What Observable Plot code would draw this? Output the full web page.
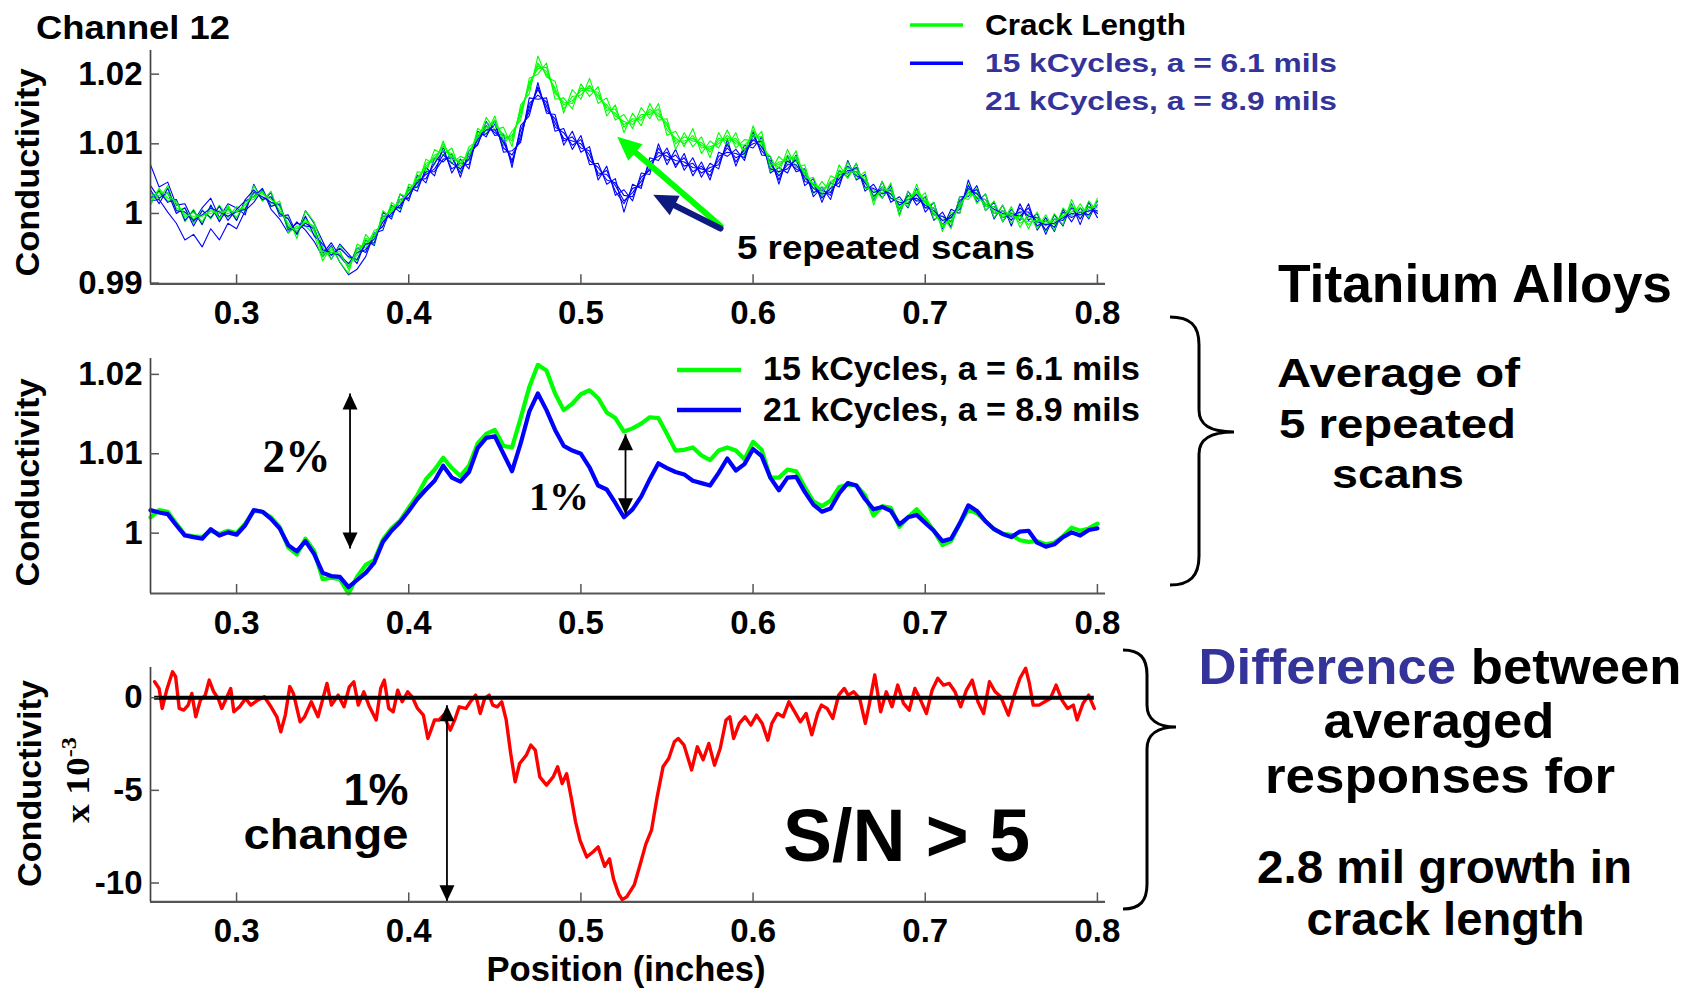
<!DOCTYPE html>
<html><head><meta charset="utf-8">
<script src="https://cdn.jsdelivr.net/npm/d3@7"></script>
<script src="https://cdn.jsdelivr.net/npm/@observablehq/plot@0.6"></script>
<style>
html,body{margin:0;padding:0;background:#fff;}
#page{position:relative;width:1694px;height:988px;overflow:hidden;background:#fff;}
.panel{position:absolute;left:0;}
#overlay{position:absolute;left:0;top:0;}
</style></head><body><div id="page"></div>
<script>
// ---------------- DATA ----------------
const xTicks = [0.3, 0.4, 0.5, 0.6, 0.7, 0.8];
const yTicksScans = [0.99, 1, 1.01, 1.02];
const yTicksAvg = [1, 1.01, 1.02];
const yTicksDiff = [-10, -5, 0];

// sampling positions (inches) of the scans / averages: 0.25 .. 0.80 every 0.005
const scanX = d3.range(111).map(i => 0.25 + i * 0.005);

// conductivity values in units of 1e-4 relative to 1.0
const avg15k = [20,29,27,12,-2,-4,-5,3,-1,3,
0,12,28,27,20,8,-18,-27,-7,-22,
-58,-56,-58,-76,-55,-40,-34,-8,6,16,
32,48,68,80,95,82,72,85,113,125,
130,110,108,145,184,212,205,176,155,163,
175,180,170,152,145,128,132,138,146,145,
125,104,105,108,98,92,104,108,104,93,
115,105,70,70,80,78,58,40,34,41,
58,61,60,48,22,34,32,8,20,30,
18,3,-15,-10,12,30,25,15,5,-1,
-2,-9,-11,-10,-14,-12,-4,7,3,6,12];
const avg21k = [29,26,24,10,-3,-5,-7,5,-3,1,
-2,10,29,27,18,6,-15,-23,-10,-26,
-50,-54,-55,-68,-59,-50,-37,-11,3,14,
28,43,55,66,85,70,65,77,107,120,
122,100,78,113,153,176,155,130,110,104,
100,83,60,55,38,20,30,46,68,88,
82,77,74,66,63,60,76,94,79,87,
106,97,70,54,70,71,52,36,27,31,
50,63,60,43,30,33,28,11,20,23,
13,3,-10,-7,12,35,28,15,5,-1,
-5,2,3,-12,-17,-14,-5,1,-3,4,6];

const scan21k_1 = [70,38,45,12,14,-12,8,22,-6,14,
8,-2,42,18,30,-4,-2,-30,4,-14,
-40,-66,-44,-58,-72,-38,-46,2,-8,28,
18,55,44,80,74,86,52,90,98,132,
112,114,66,126,140,188,144,142,98,118,
88,96,48,68,26,34,18,58,56,100,
70,92,62,80,52,72,64,106,68,98,
94,110,58,66,58,84,40,50,16,44,
38,76,48,56,18,46,16,24,8,36,
2,16,-22,6,0,48,16,28,-8,12,
-18,14,-10,0,-30,-2,-18,14,-16,16,-6];
const scan21k_2 = [18,20,2,-14,-38,-30,-48,-22,-38,-14,
-22,4,16,34,6,-8,-28,-12,-24,-40,
-62,-46,-70,-88,-80,-62,-28,-24,12,2,
38,32,66,54,96,58,78,64,118,110,
134,88,90,102,166,164,166,118,122,92,
112,70,72,42,50,2,42,36,80,76,
94,66,86,54,74,48,88,82,92,76,
118,84,82,42,82,60,64,24,38,20,
62,52,72,32,42,22,40,-2,32,12,
24,-10,2,-20,24,24,40,4,16,-12,
6,-10,14,-24,-6,-26,6,-12,8,-8,18];
const scan21k_3 = [40,22,30,0,8,-18,4,-6,10,-10,
6,18,24,36,10,14,-24,-14,-18,-20,
-58,-42,-62,-76,-50,-56,-30,-18,10,8,
34,38,60,60,78,80,58,84,100,126,
116,106,72,120,146,182,148,136,104,110,
94,90,54,62,32,14,36,40,74,82,
88,70,80,60,68,54,82,88,86,80,
112,90,76,48,76,64,58,30,34,26,
56,58,66,38,36,28,34,6,26,18,
18,-2,-4,-12,18,30,34,10,10,-6,
0,-4,8,-18,-10,-20,2,-6,2,-2,12];
const scan21k_4 = [22,32,16,20,-10,4,-16,12,-12,8,
-10,20,34,20,24,0,-8,-30,-4,-32,
-44,-60,-50,-62,-66,-44,-42,-4,-4,20,
22,48,50,72,90,64,72,70,112,114,
128,94,84,106,158,170,160,124,116,98,
106,76,66,48,44,26,24,52,62,94,
76,84,68,72,58,66,70,100,74,92,
100,104,64,60,64,78,46,42,22,36,
44,68,54,48,24,38,22,16,14,28,
8,8,-16,-2,6,40,22,20,0,4,
-10,8,-4,-6,-24,-8,-10,8,-8,10,0];
const scan21k_5 = [34,14,36,4,2,-10,-2,8,2,-4,
2,6,30,24,16,12,-20,-26,-14,-22,
-52,-56,-60,-72,-56,-52,-36,-12,0,12,
28,44,56,64,84,72,64,78,106,120,
120,102,76,112,152,178,154,130,108,104,
100,84,58,56,40,18,30,46,66,88,
82,76,74,66,64,60,76,94,80,86,
106,96,72,54,70,70,52,36,28,30,
50,62,60,44,30,34,28,12,20,22,
12,4,-10,-6,12,36,28,14,6,0,
-4,2,2,-12,-16,-14,-6,0,-2,4,4];

const scan15k_1 = [30,20,40,4,8,-14,6,-8,12,-6,
10,4,40,18,32,-2,-6,-36,4,-12,
-48,-66,-46,-64,-68,-30,-44,4,-6,28,
22,60,58,92,84,94,62,96,104,138,
120,124,96,156,172,226,196,190,144,178,
164,194,158,166,134,142,122,152,136,158,
112,118,96,122,86,104,94,120,94,106,
104,118,60,82,70,90,48,52,24,54,
48,74,50,60,12,46,22,20,10,42,
8,16,-26,2,0,42,14,28,-6,12,
-14,2,-22,2,-26,0,-16,20,-8,18,2];
const scan15k_2 = [12,34,18,20,-12,6,-16,12,-10,12,
-10,18,20,36,10,18,-28,-18,-18,-30,
-68,-48,-70,-86,-44,-50,-24,-20,16,6,
42,38,78,70,104,72,82,76,122,114,
140,98,118,134,194,200,216,164,166,150,
186,168,182,140,156,116,144,126,158,134,
136,92,116,96,110,80,116,96,116,82,
126,94,82,58,92,66,70,28,46,30,
70,50,72,36,34,22,44,-4,32,18,
30,-8,-4,-22,24,20,36,4,18,-12,
10,-20,0,-22,-2,-24,8,-4,14,-6,22];
const scan15k_3 = [22,26,30,8,2,-8,-2,0,4,0,
4,8,32,22,24,4,-14,-30,-4,-26,
-54,-60,-54,-80,-50,-44,-30,-12,10,12,
36,44,72,76,100,78,76,80,116,120,
134,106,112,140,188,208,210,172,160,158,
180,176,174,148,150,124,136,134,150,140,
130,100,110,104,102,88,108,104,108,88,
120,100,74,66,84,74,62,36,38,36,
62,56,64,44,26,30,36,4,24,26,
22,-2,-10,-14,16,26,30,10,10,-6,
2,-14,-6,-14,-10,-16,0,2,8,2,16];
const scan15k_4 = [16,36,22,18,-6,2,-12,8,-6,8,
-6,16,24,32,14,14,-22,-22,-12,-18,
-62,-52,-62,-72,-60,-36,-38,-4,2,20,
28,52,64,84,90,86,68,90,108,130,
126,114,104,150,180,216,200,180,150,168,
170,184,166,156,140,132,128,142,142,150,
120,108,100,112,94,96,100,112,100,98,
110,110,66,74,76,82,54,44,30,46,
54,66,56,52,18,38,28,12,16,34,
14,8,-20,-6,8,34,20,20,0,4,
-6,-4,-16,-6,-18,-8,-8,12,-2,10,8];
const scan15k_5 = [24,30,28,14,-2,-4,-4,4,0,4,
2,12,28,28,20,10,-18,-26,-8,-22,
-58,-56,-58,-76,-54,-40,-34,-8,6,16,
32,48,68,80,96,82,72,84,112,124,
130,110,108,146,184,212,204,176,156,162,
176,180,170,152,144,128,132,138,146,144,
126,104,104,108,98,92,104,108,104,92,
114,104,70,70,80,78,58,40,34,42,
58,60,60,48,22,34,32,8,20,30,
18,2,-16,-10,12,30,24,14,4,-2,
-2,-8,-12,-10,-14,-12,-4,6,2,6,12];

// difference between averaged responses (x 1e-3)
const diffX = [0.2524,0.2550,0.2568,0.2594,0.2628,0.2646,0.2667,0.2693,0.2719,0.2740,0.2763,0.2790,0.2818,0.2841,0.2867,0.2893,0.2914,0.2940,0.2966,0.2984,
0.3018,0.3052,0.3083,0.3122,0.3161,0.3200,0.3234,0.3257,0.3283,0.3309,0.3330,0.3369,0.3395,0.3434,0.3473,0.3499,0.3525,0.3551,0.3590,0.3624,
0.3655,0.3681,0.3707,0.3739,0.3772,0.3811,0.3837,0.3858,0.3884,0.3910,0.3936,0.3962,0.3994,0.4020,0.4051,0.4085,0.4111,0.4129,0.4150,0.4176,
0.4202,0.4241,0.4267,0.4293,0.4332,0.4358,0.4389,0.4415,0.4441,0.4467,0.4488,0.4514,0.4540,0.4566,0.4592,0.4618,0.4644,0.4683,0.4709,0.4735,
0.4761,0.4800,0.4839,0.4865,0.4891,0.4917,0.4943,0.4969,0.4995,0.5034,0.5073,0.5100,0.5138,0.5166,0.5190,0.5220,0.5240,0.5266,0.5310,0.5344,
0.5377,0.5410,0.5443,0.5477,0.5510,0.5543,0.5565,0.5599,0.5643,0.5676,0.5710,0.5743,0.5776,0.5809,0.5843,0.5865,0.5887,0.5920,0.5953,0.5987,
0.6020,0.6053,0.6086,0.6109,0.6142,0.6175,0.6208,0.6242,0.6275,0.6308,0.6341,0.6375,0.6397,0.6430,0.6463,0.6497,0.6530,0.6552,0.6585,0.6619,
0.6652,0.6674,0.6707,0.6741,0.6774,0.6807,0.6840,0.6874,0.6907,0.6940,0.6973,0.7007,0.7040,0.7073,0.7106,0.7140,0.7173,0.7206,0.7239,0.7273,
0.7306,0.7339,0.7373,0.7406,0.7439,0.7483,0.7517,0.7550,0.7583,0.7605,0.7627,0.7661,0.7694,0.7727,0.7760,0.7794,0.7827,0.7860,0.7882,0.7916,
0.7949,0.7982];
const diffY = [0.86,0.50,-0.58,0.41,1.40,1.13,-0.58,-0.67,-0.40,0.23,-1.03,-0.13,0.14,0.95,0.32,-0.04,-0.58,-0.04,0.50,-0.76,
-0.49,-0.04,-0.40,-0.13,0.05,-0.49,-1.03,-1.84,-0.94,0.60,0.23,-1.30,-1.03,-0.22,-1.03,-0.13,0.77,-0.40,0.14,-0.49,
0.59,0.86,-0.40,0.32,-0.49,-1.20,0.50,0.95,-0.58,-0.76,0.41,-0.22,0.32,0.05,-0.58,-0.94,-2.20,-1.75,-1.20,-1.20,
-0.94,-1.75,-1.20,-0.49,-0.58,-0.22,0.14,-0.85,-0.04,0.14,-0.40,-0.49,-0.22,-1.20,-3.00,-4.54,-3.55,-3.10,-2.56,-2.83,
-4.27,-4.72,-4.27,-3.73,-4.63,-4.10,-5.35,-6.70,-7.70,-8.60,-8.30,-8.05,-9.10,-8.70,-9.80,-10.60,-10.90,-10.75,-10.10,-9.00,
-7.90,-7.15,-5.35,-3.73,-3.28,-2.38,-2.20,-2.56,-3.90,-2.65,-3.35,-2.47,-3.64,-2.74,-1.20,-1.03,-2.20,-1.39,-1.03,-1.48,
-0.94,-1.39,-2.29,-1.39,-0.85,-1.03,-0.22,-0.76,-1.30,-0.85,-2.00,-0.85,-0.40,-0.58,-1.12,0.14,0.50,0.14,0.32,-0.04,
-1.39,-0.40,1.23,-0.76,0.32,-0.49,0.68,-0.31,-0.67,0.50,-0.13,-0.85,0.41,1.05,0.68,0.77,0.32,-0.49,0.41,0.95,
-0.22,-0.85,0.86,0.32,0.05,-0.94,0.14,1.05,1.59,0.77,-0.40,-0.40,-0.22,-0.04,0.68,-0.13,-0.58,-0.40,-1.20,-0.31,
0.14,-0.58];

// annotation anchors (data units)
const arrowsScans = [
  {x1: 0.5811, y1: 0.99820, x2: 0.5211, y2: 1.01101, color: "#00ff00", rot: -49.2},
  {x1: 0.5811, y1: 0.99784, x2: 0.5420, y2: 1.00269, color: "#0d1a80", rot: -63.3}
];
const doubleArrowsAvg = [
  {x: 0.3659, top: 1.01759, bottom: 0.99806},
  {x: 0.5259, top: 1.01246, bottom: 1.00238}
];
const doubleArrowDiff = [{x: 0.4222, top: -0.405, bottom: -10.98}];

// ---------------- CHARTS ----------------
const GREEN = "#00ff00", BLUE = "#0000ff", RED = "#ff0000", TEXTBLUE = "#333399";
const FONT = "'Liberation Sans', Arial, Helvetica, sans-serif";
const xDomain = [0.25, 0.8047];
const toCond = v => 1 + v / 1e4;
const fmt = d => String(d);

function tri(len, half) {
  return {draw(ctx) { ctx.moveTo(0, 0); ctx.lineTo(half, len); ctx.lineTo(-half, len); ctx.closePath(); }};
}

function frameMarks(yDomain, yTicks) {
  return [
    Plot.ruleY([yDomain[0]], {stroke: "#555", strokeWidth: 2.2}),
    Plot.ruleX([xDomain[0]], {stroke: "#444", strokeWidth: 1.7}),
    Plot.axisX(xTicks, {tickSize: -9, tickPadding: 26, tickFormat: fmt, fontSize: 33, fontWeight: "bold", stroke: "#555", strokeWidth: 1.5, label: null}),
    Plot.axisY(yTicks, {tickSize: -9, tickPadding: 17, tickFormat: fmt, fontSize: 33, fontWeight: "bold", stroke: "#555", strokeWidth: 1.5, label: null})
  ];
}

function makePlot(opts) {
  return Plot.plot({
    width: 1110, height: opts.height,
    marginLeft: 150, marginRight: 5, marginTop: 20, marginBottom: opts.height - 20 - opts.inner,
    x: {domain: xDomain, label: null},
    y: {domain: opts.yDomain, label: null},
    style: {fontFamily: FONT, fontWeight: "bold", background: "transparent", color: "black", overflow: "visible"},
    marks: [...opts.marks, ...frameMarks(opts.yDomain, opts.yTicks)]
  });
}

// panel 1: five repeated scans for each crack length
const scanSets = [
  ["21k-1", scan21k_1, BLUE], ["15k-1", scan15k_1, GREEN],
  ["21k-2", scan21k_2, BLUE], ["15k-2", scan15k_2, GREEN],
  ["21k-3", scan21k_3, BLUE], ["15k-3", scan15k_3, GREEN],
  ["21k-4", scan21k_4, BLUE], ["15k-4", scan15k_4, GREEN],
  ["21k-5", scan21k_5, BLUE], ["15k-5", scan15k_5, GREEN]
];
const scanMarks = scanSets.map(([name, arr, color]) =>
  Plot.line(arr.map((v, i) => ({x: scanX[i], y: toCond(v)})), {x: "x", y: "y", stroke: color, strokeWidth: 1.1})
);
const p1 = makePlot({
  height: 303, inner: 233.3, yDomain: [0.9899, 1.0234], yTicks: yTicksScans,
  marks: [
    ...scanMarks,
    ...arrowsScans.map(a => Plot.arrow([a], {x1: "x1", y1: "y1", x2: "x2", y2: "y2", stroke: a.color, strokeWidth: 6, headLength: 0, insetEnd: 18})),
    ...arrowsScans.map(a => Plot.dot([a], {x: "x2", y: "y2", symbol: tri(24, 11), fill: a.color, stroke: "none", rotate: a.rot}))
  ]
});

// panel 2: averages
const avgData15 = avg15k.map((v, i) => ({x: scanX[i], y: toCond(v)}));
const avgData21 = avg21k.map((v, i) => ({x: scanX[i], y: toCond(v)}));
const p2 = makePlot({
  height: 305, inner: 235, yDomain: [0.9924, 1.022], yTicks: yTicksAvg,
  marks: [
    Plot.line(avgData15, {x: "x", y: "y", stroke: GREEN, strokeWidth: 4.2}),
    Plot.line(avgData21, {x: "x", y: "y", stroke: BLUE, strokeWidth: 4.2}),
    Plot.link(doubleArrowsAvg, {x1: "x", x2: "x", y1: "top", y2: "bottom", stroke: "black", strokeWidth: 1.8}),
    Plot.dot(doubleArrowsAvg, {x: "x", y: "top", symbol: tri(16, 7.5), fill: "black", stroke: "none"}),
    Plot.dot(doubleArrowsAvg, {x: "x", y: "bottom", symbol: tri(16, 7.5), fill: "black", stroke: "none", rotate: 180})
  ]
});

// panel 3: difference
const diffData = diffX.map((x, i) => ({x, y: diffY[i]}));
const p3 = makePlot({
  height: 304, inner: 234.4, yDomain: [-11.02, 1.63], yTicks: yTicksDiff,
  marks: [
    Plot.line(diffData, {x: "x", y: "y", stroke: RED, strokeWidth: 3.4}),
    Plot.ruleY([0], {x1: diffX[0], x2: diffX[diffX.length - 1], stroke: "black", strokeWidth: 4}),
    Plot.link(doubleArrowDiff, {x1: "x", x2: "x", y1: "top", y2: "bottom", stroke: "black", strokeWidth: 1.8}),
    Plot.dot(doubleArrowDiff, {x: "x", y: "top", symbol: tri(16, 7.5), fill: "black", stroke: "none"}),
    Plot.dot(doubleArrowDiff, {x: "x", y: "bottom", symbol: tri(16, 7.5), fill: "black", stroke: "none", rotate: 180})
  ]
});

const page = document.getElementById("page");
[[p1, 30], [p2, 338.3], [p3, 647.3]].forEach(([svg, top]) => {
  svg.classList.add("panel");
  svg.style.top = top + "px";
  page.appendChild(svg);
});

// ---------------- TEXT OVERLAY ----------------
function t(x, y, str, size, opts = {}) {
  const anchor = opts.anchor || "start";
  const fam = opts.serif ? "'Liberation Serif', 'Times New Roman', serif" : FONT;
  const tl = opts.len ? ` textLength="${opts.len}" lengthAdjust="spacingAndGlyphs"` : "";
  const tr = opts.rot ? ` transform="rotate(${opts.rot} ${x} ${y})"` : "";
  return `<text x="${x}" y="${y}" font-size="${size}" font-family="${fam}" font-weight="bold" fill="${opts.fill || "black"}" text-anchor="${anchor}"${tl}${tr}>${str}</text>`;
}
const overlay = `
<svg id="overlay" width="1694" height="988" xmlns="http://www.w3.org/2000/svg">
${t(36, 39, "Channel 12", 33, {len: 194})}
<line x1="910" x2="963" y1="25" y2="25" stroke="${GREEN}" stroke-width="3.5"/>
${t(985, 35, "Crack Length", 30, {len: 201})}
<line x1="910" x2="963" y1="63.3" y2="63.3" stroke="${BLUE}" stroke-width="3.5"/>
${t(985, 71.7, "15 kCycles, a = 6.1 mils", 26, {len: 352, fill: TEXTBLUE})}
${t(985, 110, "21 kCycles, a = 8.9 mils", 26, {len: 352, fill: TEXTBLUE})}
${t(737, 259, "5 repeated scans", 34, {len: 298})}
<line x1="677" x2="741" y1="370" y2="370" stroke="${GREEN}" stroke-width="4.5"/>
${t(763, 380, "15 kCycles, a = 6.1 mils", 34, {len: 377})}
<line x1="677" x2="741" y1="410" y2="410" stroke="${BLUE}" stroke-width="4.5"/>
${t(763, 420.7, "21 kCycles, a = 8.9 mils", 34, {len: 377})}
${t(262.5, 471.7, "2%", 47, {serif: true, len: 68})}
${t(529, 510, "1%", 41, {serif: true, len: 60})}
${t(408.5, 805, "1%", 45, {anchor: "end", len: 65})}
${t(408.5, 849, "change", 42, {anchor: "end", len: 165})}
${t(783, 861, "S/N &gt; 5", 74, {len: 247})}
${t(626, 981, "Position (inches)", 35, {anchor: "middle", len: 279})}
${t(39, 172.5, "Conductivity", 33, {anchor: "middle", len: 208, rot: -90})}
${t(39, 482.5, "Conductivity", 33, {anchor: "middle", len: 208, rot: -90})}
${t(41, 783.5, "Conductivity", 33, {anchor: "middle", len: 207, rot: -90})}
<text x="89" y="780" font-size="34" font-family="'Liberation Serif', 'Times New Roman', serif" font-weight="bold" text-anchor="middle" textLength="86" lengthAdjust="spacingAndGlyphs" transform="rotate(-90 89 780)">x 10<tspan font-size="22" dy="-13">-3</tspan></text>
${t(1278, 302, "Titanium Alloys", 53, {len: 394})}
${t(1398.5, 386.7, "Average of", 40, {anchor: "middle", len: 243})}
${t(1397.5, 438.3, "5 repeated", 40, {anchor: "middle", len: 237})}
${t(1398, 488.3, "scans", 40, {anchor: "middle", len: 132})}
<text x="1198.5" y="684.3" font-size="50" font-family="${FONT}" font-weight="bold" textLength="483" lengthAdjust="spacingAndGlyphs"><tspan fill="${TEXTBLUE}">Difference</tspan><tspan fill="black"> between</tspan></text>
${t(1439, 738.3, "averaged", 50, {anchor: "middle", len: 231})}
${t(1440, 793.3, "responses for", 50, {anchor: "middle", len: 350})}
${t(1444.5, 883.3, "2.8 mil growth in", 46, {anchor: "middle", len: 375})}
${t(1445.6, 935, "crack length", 46, {anchor: "middle", len: 278})}
<path d="M1170,317 C1190,317 1199,325 1199,345 L1199,410 C1199,425 1210,432 1234,432 C1210,432 1199,439 1199,454 L1199,556 C1199,576 1190,585 1170,585" fill="none" stroke="black" stroke-width="3"/>
<path d="M1123,650 C1140,650 1147,658 1147,675 L1147,705 C1147,720 1158,727 1176,727 C1158,727 1147,734 1147,749 L1147,884 C1147,901 1140,909 1123,909" fill="none" stroke="black" stroke-width="3"/>
</svg>`;
page.insertAdjacentHTML("beforeend", overlay);
</script></body></html>
